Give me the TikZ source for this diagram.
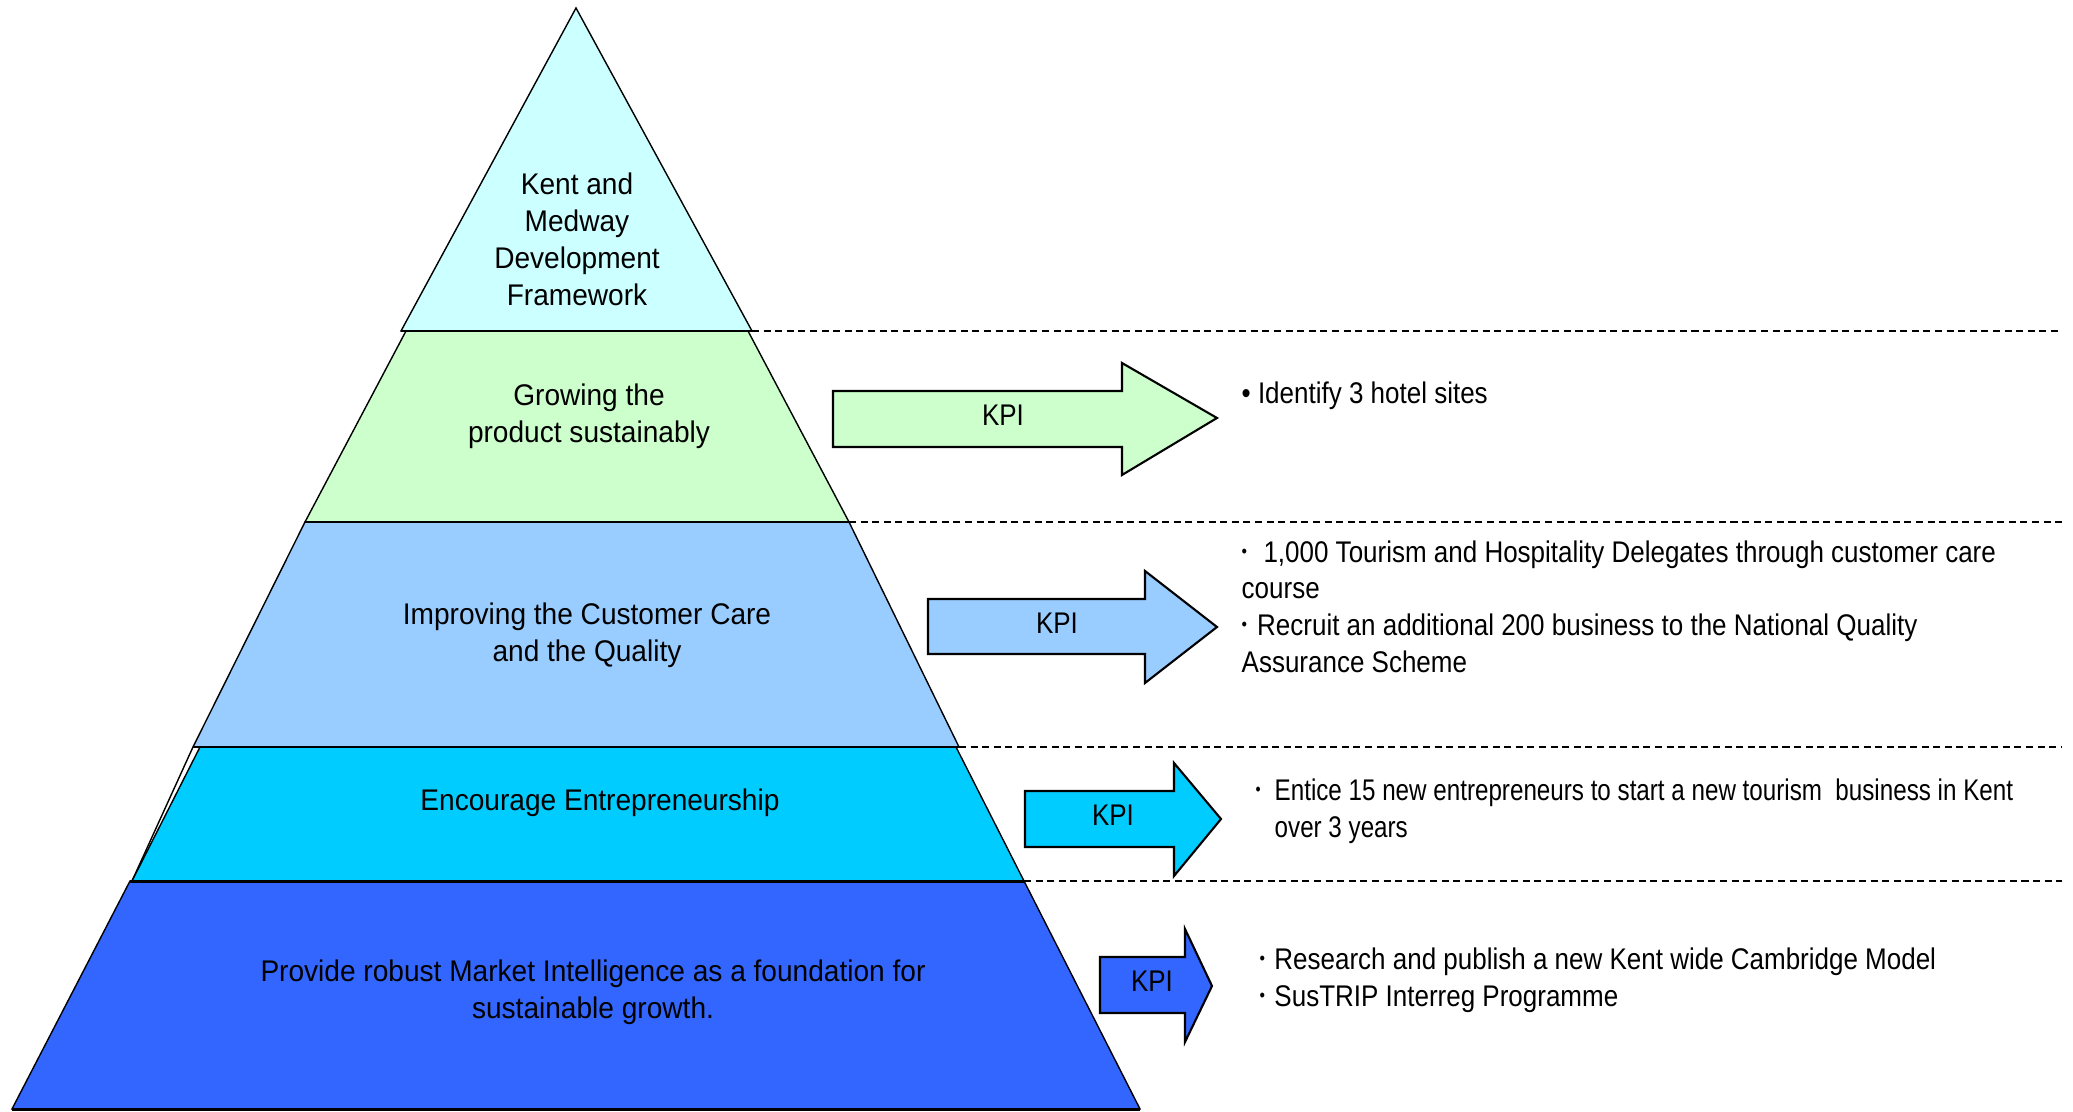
\documentclass[tikz,border=0pt]{standalone}
\usepackage{fontspec}
\setmainfont{Liberation Sans}
\newfontfamily\tierfont[FakeStretch=0.94]{Liberation Sans}
\newfontfamily\notefont[FakeStretch=0.87]{Liberation Sans}
\newfontfamily\tightfont[FakeStretch=0.81]{Liberation Sans}
\usetikzlibrary{backgrounds}
\pgfdeclarelayer{edgelayer}
\pgfdeclarelayer{nodelayer}
\pgfsetlayers{edgelayer,nodelayer,main}
\definecolor{tier1}{HTML}{CCFFFF}
\definecolor{tier2}{HTML}{CCFFCC}
\definecolor{tier3}{HTML}{99CCFF}
\definecolor{tier4}{HTML}{00CCFF}
\definecolor{tier5}{HTML}{3366FF}
\newcommand\dotmark[1]{\makebox[#1][l]{\raisebox{0.3ex}{\scalebox{0.6}{•}}}}
\tikzstyle{none}=[inner sep=0pt]
\tikzstyle{tier label}=[inner sep=0pt, align=center, font=\tierfont\fontsize{8.5}{10.5}\selectfont]
\tikzstyle{kpi}=[inner sep=0pt, font=\notefont\fontsize{8.5}{10.5}\selectfont]
\tikzstyle{target}=[inner sep=0pt, align=left, anchor=base west, font=\notefont\fontsize{8.5}{10.4}\selectfont]
\tikzstyle{tier}=[draw=black, line width=0.4pt]
\tikzstyle{shelf}=[draw=black, line width=0.85pt]
\tikzstyle{guide}=[draw=black, line width=0.55pt, dash pattern=on 2pt off 1.3pt]
\tikzstyle{block}=[draw=black, line width=0.6pt]

\begin{document}
\begin{tikzpicture}
	\useasboundingbox (0, 0) rectangle (20.73, -11.12);
	\begin{pgfonlayer}{nodelayer}
		\node [style=tier label] (0) at (5.77, -2.39) {Kent and\\Medway\\Development\\Framework};
		\node [style=tier label] (1) at (5.89, -4.16) {Growing the\\product sustainably};
		\node [style=tier label] (2) at (5.87, -6.35) {Improving the Customer Care\\and the Quality};
		\node [style=tier label] (3) at (6.00, -8.03) {Encourage Entrepreneurship};
		\node [style=tier label] (4) at (5.93, -9.92) {Provide robust Market Intelligence as a foundation for\\sustainable growth.};
		\node [style=kpi] (5) at (10.03, -4.15) {KPI};
		\node [style=kpi] (6) at (10.57, -6.23) {KPI};
		\node [style=kpi] (7) at (11.13, -8.15) {KPI};
		\node [style=kpi] (8) at (11.52, -9.81) {KPI};
		% bullet blocks sit on the baseline of their last line
		\node [style=target] (9) at (12.41, -4.04) {• Identify 3 hotel sites};
		\node [style=target] (10) at (12.41, -6.72) {\dotmark{6.2pt}1,000 Tourism and Hospitality Delegates through customer care\\course\\\dotmark{4.4pt}Recruit an additional 200 business to the National Quality\\Assurance Scheme};
		\node [style=target, font=\tightfont\fontsize{8.5}{10.4}\selectfont] (11) at (12.55, -8.37) {\dotmark{5.4pt}Entice 15 new entrepreneurs to start a new tourism\ \ business in Kent\\\hphantom{\dotmark{5.4pt}}over 3 years};
		\node [style=target] (12) at (12.59, -10.06) {\dotmark{4.2pt}Research and publish a new Kent wide Cambridge Model\\\dotmark{4.2pt}SusTRIP Interreg Programme};
		\node [style=none] (13) at (7.52, -3.31) {};
		\node [style=none] (14) at (20.62, -3.31) {};
		\node [style=none] (15) at (8.49, -5.22) {};
		\node [style=none] (16) at (20.62, -5.22) {};
		\node [style=none] (17) at (9.59, -7.47) {};
		\node [style=none] (18) at (20.62, -7.47) {};
		\node [style=none] (19) at (10.24, -8.81) {};
		\node [style=none] (20) at (20.62, -8.81) {};
	\end{pgfonlayer}
	\begin{pgfonlayer}{edgelayer}
		% pyramid, top to bottom
		\draw [style=tier, fill=tier1] (5.76, -0.08) -- (7.52, -3.31) -- (4.01, -3.31) -- cycle;
		\draw [style=tier, fill=tier2] (4.06, -3.31) -- (7.48, -3.31) -- (8.49, -5.22) -- (3.05, -5.22) -- cycle;
		\draw [style=tier, fill=tier3] (3.05, -5.22) -- (8.49, -5.22) -- (9.59, -7.47) -- (1.93, -7.47) -- cycle;
		\draw [style=tier] (1.93, -7.47) -- (1.32, -8.81);
		\draw [style=tier, fill=tier4] (2.00, -7.47) -- (9.56, -7.47) -- (10.24, -8.81) -- (1.32, -8.81) -- cycle;
		\draw [style=tier, fill=tier5] (1.30, -8.81) -- (10.24, -8.81) -- (11.40, -11.09) -- (0.12, -11.09) -- cycle;
		\draw [style=shelf] (4.01, -3.31) -- (7.52, -3.31);
		\draw [style=shelf] (3.05, -5.22) -- (8.49, -5.22);
		\draw [style=shelf] (1.93, -7.47) -- (9.59, -7.47);
		\draw [style=shelf] (1.30, -8.81) -- (10.24, -8.81);
		\draw [style=shelf] (0.12, -11.09) -- (11.40, -11.09);
		% dashed rules
		\draw [style=guide] (13.center) to (14.center);
		\draw [style=guide] (15.center) to (16.center);
		\draw [style=guide] (17.center) to (18.center);
		\draw [style=guide] (19.center) to (20.center);
		% KPI arrows
		\draw [style=block, fill=tier2] (8.33, -3.91) -- (11.22, -3.91) -- (11.22, -3.63) -- (12.17, -4.18) -- (11.22, -4.75) -- (11.22, -4.47) -- (8.33, -4.47) -- cycle;
		\draw [style=block, fill=tier3] (9.28, -5.99) -- (11.45, -5.99) -- (11.45, -5.71) -- (12.17, -6.27) -- (11.45, -6.83) -- (11.45, -6.54) -- (9.28, -6.54) -- cycle;
		\draw [style=block, fill=tier4] (10.25, -7.91) -- (11.74, -7.91) -- (11.74, -7.63) -- (12.21, -8.19) -- (11.74, -8.76) -- (11.74, -8.47) -- (10.25, -8.47) -- cycle;
		\draw [style=block, fill=tier5] (11.00, -9.57) -- (11.85, -9.57) -- (11.85, -9.29) -- (12.12, -9.86) -- (11.85, -10.42) -- (11.85, -10.13) -- (11.00, -10.13) -- cycle;
	\end{pgfonlayer}
\end{tikzpicture}
\end{document}
